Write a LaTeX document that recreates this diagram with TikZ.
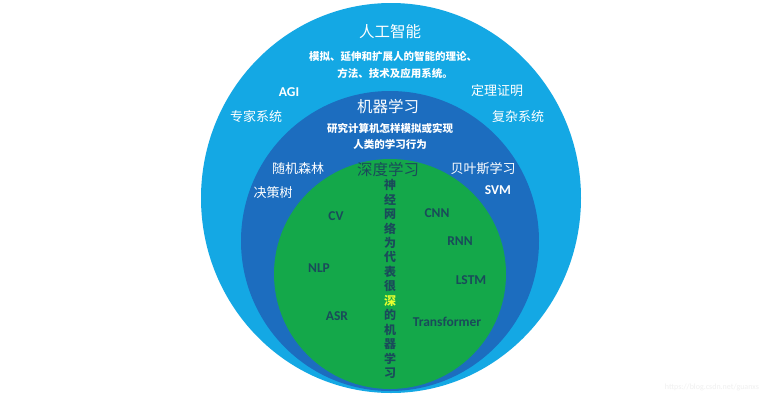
\documentclass[tikz,border=0pt]{standalone}
\usepackage{fontspec}
\setmainfont{Carlito}
\newfontfamily\cjk{Noto Sans CJK SC}
\definecolor{outerblue}{HTML}{14A8E4}
\definecolor{midblue}{HTML}{1C6DBF}
\definecolor{dlgreen}{HTML}{14A84A}
\definecolor{darkteal}{HTML}{1A4B5A}
\definecolor{hiyellow}{HTML}{E8FF30}
\tikzset{
  wlbl/.style={text=white, inner sep=0pt, font=\cjk\fontsize{13}{15}\selectfont},
  wlat/.style={text=white, inner sep=0pt, font=\bfseries\fontsize{13.5}{15}\selectfont},
  title/.style={text=white, inner sep=0pt, font=\cjk\fontsize{15.5}{18}\selectfont},
  desc/.style={text=white, inner sep=0pt, font=\cjk\bfseries\fontsize{10.5}{12}\selectfont},
  glat/.style={text=darkteal, inner sep=0pt, font=\bfseries\fontsize{13.5}{15}\selectfont}
}
\begin{document}
\begin{tikzpicture}[x=1pt,y=-1pt]
\useasboundingbox (0,0) rectangle (780,400);
\fill[white] (0,0) rectangle (780,400);
\fill[outerblue] (391,198) ellipse [x radius=190pt, y radius=195pt];
\fill[midblue] (390,241) ellipse [x radius=149pt, y radius=150pt];
\fill[dlgreen] (390,274) ellipse [x radius=116pt, y radius=115pt];
% AI level
\node[title] (ai) at (390,32) {人工智能};
\node[desc] (aid1) at (393,57) {模拟、延伸和扩展人的智能的理论、};
\node[desc] (aid2) at (395,73) {方法、技术及应用系统。};
\node[wlat] (agi) at (289,92) {AGI};
\node[wlbl] (thm) at (497,91) {定理证明};
\node[wlbl] (exp) at (256,117) {专家系统};
\node[wlbl] (cplx) at (518,117) {复杂系统};
% ML level
\node[title] (ml) at (388,107) {机器学习};
\node[desc] (mld1) at (390,128) {研究计算机怎样模拟或实现};
\node[desc] (mld2) at (390,144) {人类的学习行为};
\node[wlbl] (rf) at (298,169) {随机森林};
\node[wlbl] (bayes) at (483,169) {贝叶斯学习};
\node[wlbl] (dt) at (273,193) {决策树};
\node[wlat] (svm) at (498,190) {SVM};
% DL level
\node[title, text=darkteal] (dl) at (388,170) {深度学习};
\node[inner sep=0pt, text=darkteal, align=center, font=\cjk\bfseries\fontsize{12}{14.46}\selectfont] (vert) at (390,279)
  {神\\经\\网\\络\\为\\代\\表\\很\\\textcolor{hiyellow}{深}\\的\\机\\器\\学\\习};
\node[glat] (cv) at (336,216) {CV};
\node[glat] (cnn) at (437,213) {CNN};
\node[glat] (rnn) at (460,241) {RNN};
\node[glat] (nlp) at (319,268) {NLP};
\node[glat] (lstm) at (471,280) {LSTM};
\node[glat] (asr) at (337,316) {ASR};
\node[glat] (tf) at (447,322) {Transformer};
% watermark
\node[text=black!6, inner sep=0pt, font=\fontsize{8}{9}\selectfont] (wm) at (712,387) {https://blog.csdn.net/guanxs};
\end{tikzpicture}
\end{document}
